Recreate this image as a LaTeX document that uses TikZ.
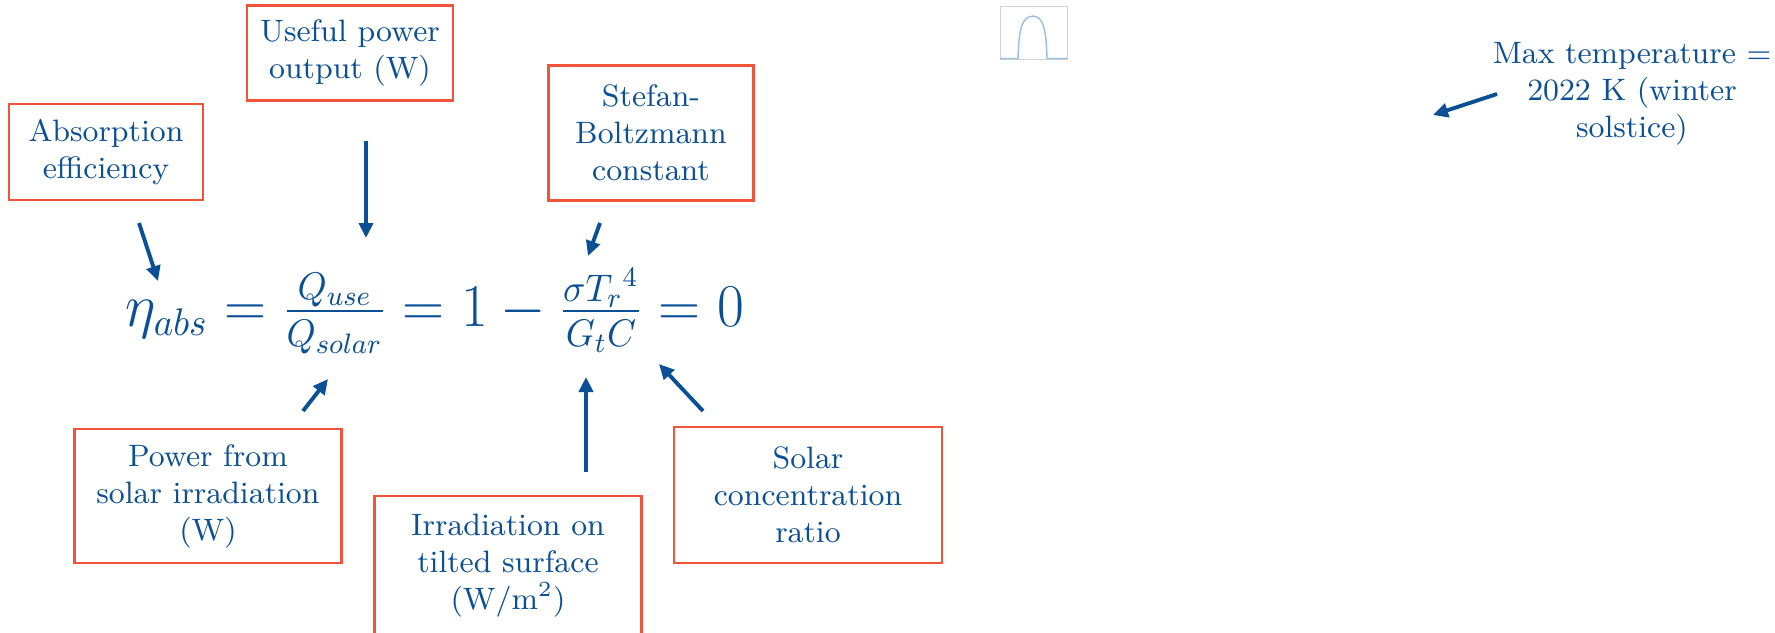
\documentclass[tikz,border=0pt]{standalone}
\usepackage{amsmath}
\usetikzlibrary{arrows.meta}
\definecolor{eqblue}{RGB}{11,79,150}
\definecolor{boxred}{RGB}{242,84,58}
\definecolor{plotblue}{RGB}{150,190,230}

\begin{document}
\begin{tikzpicture}[x=0.01cm, y=-0.01cm,
  box/.style={draw=boxred, line width=0.7pt, text=eqblue, align=center,
    font=\fontsize{8.8}{10.5}\selectfont, inner sep=0pt},
  arr/.style={draw=eqblue, line width=1.1pt, -{Triangle[length=0.15cm, width=0.14cm]}}]
  \clip (0,0) rectangle (1775,632);

  % the balance equation
  \node[anchor=base west, text=eqblue, font=\fontsize{16}{19}\selectfont, inner sep=0pt, xscale=0.96] (eqn)
    at (125,326) {$\eta_{abs} = \frac{Q_{use}}{Q_{solar}} = 1 - \frac{\sigma {T_r}^4}{G_t C} = 0$};

  % labels
  \node[box, minimum width=1.94cm, minimum height=0.96cm] (absorb) at (106,152) {Absorption\\efficiency};
  \node[box, minimum width=2.06cm, minimum height=0.95cm] (useful) at (350,53) {Useful power\\output (W)};
  \node[box, minimum width=2.05cm, minimum height=1.35cm] (stefan) at (651,133) {Stefan-\\Boltzmann\\constant};
  \node[box, minimum width=2.67cm, minimum height=1.34cm] (qsolar) at (208,496) {Power from\\solar irradiation\\(W)};
  \node[box, minimum width=2.67cm, minimum height=1.40cm] (irrad) at (508,566) {Irradiation on\\tilted surface\\(W/m\textsuperscript{2})};
  \node[box, minimum width=2.68cm, minimum height=1.36cm] (conc) at (808,495) {Solar\\concentration\\ratio};
  \node[text=eqblue, align=center, font=\fontsize{8.8}{10.5}\selectfont] (maxtemp) at (1632,94)
    {Max temperature =\\2022 K (winter\\solstice)};

  % arrow ends
  \coordinate (absorb-t) at (139,223); \coordinate (eta) at (158,281);
  \coordinate (useful-t) at (366,141); \coordinate (quse) at (366,238);
  \coordinate (stefan-t) at (600,223); \coordinate (sigma) at (588,256);
  \coordinate (qsolar-t) at (303,411); \coordinate (qsol) at (328,379);
  \coordinate (irrad-t) at (586,472); \coordinate (gt) at (586,377);
  \coordinate (conc-t) at (703,411); \coordinate (cc) at (659,364);
  \coordinate (maxtemp-t) at (1497,94); \coordinate (peak) at (1433,115);

  \draw[arr] (absorb-t) -- (eta);
  \draw[arr] (useful-t) -- (quse);
  \draw[arr] (stefan-t) -- (sigma);
  \draw[arr] (qsolar-t) -- (qsol);
  \draw[arr] (irrad-t) -- (gt);
  \draw[arr] (conc-t) -- (cc);
  \draw[arr] (maxtemp-t) -- (peak);

  % small temperature plot
  \draw[gray!35, line width=0.2pt] (1000,6) rectangle (1067,59);
  \draw[plotblue, line width=0.4pt] (1000,58.5) -- (1018,58.5)
    .. controls (1019,30) and (1021,17) .. (1033,16)
    .. controls (1044,17) and (1046,30) .. (1047,58.5) -- (1067,58.5);
\end{tikzpicture}
\end{document}
